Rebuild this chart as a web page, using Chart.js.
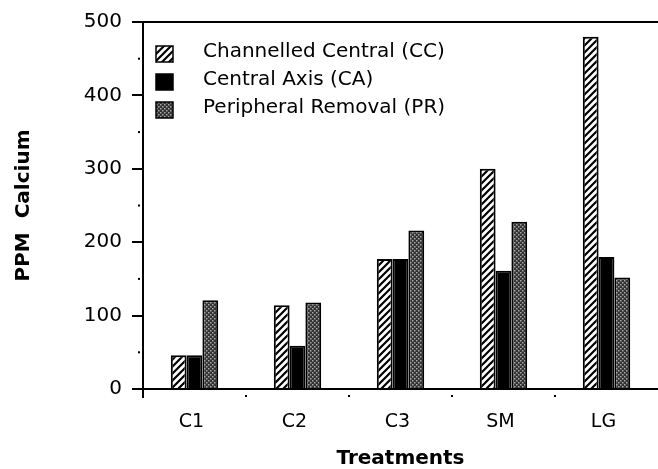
<!DOCTYPE html>
<html>
<head>
<meta charset="utf-8">
<script src="https://cdn.jsdelivr.net/npm/chart.js@4.4.1/dist/chart.umd.min.js"></script>
<style>
  html, body { margin: 0; padding: 0; background: #fff; }
  #wrap { width: 658px; height: 469px; }
</style>
</head>
<body>
<div id="wrap"><canvas id="chart"></canvas></div>
<script>
const treatments = ['C1', 'C2', 'C3', 'SM', 'LG'];
const channelledCentral = [46, 114, 177, 300, 480];
const centralAxis = [46, 59, 177, 161, 180];
const peripheralRemoval = [121, 118, 216, 228, 152];
const seriesNames = ['Channelled Central (CC)', 'Central Axis (CA)', 'Peripheral Removal (PR)'];

// fill patterns like the old print
function hatchPattern() {
    const c = document.createElement('canvas');
    c.width = 7; c.height = 7;
    const g = c.getContext('2d');
    g.fillStyle = '#fff';
    g.fillRect(0, 0, 7, 7);
    g.strokeStyle = '#000';
    g.lineWidth = 2.2;
    g.beginPath();
    g.moveTo(-1, 8); g.lineTo(8, -1);
    g.moveTo(-5, 5); g.lineTo(5, -5);
    g.moveTo(2, 12); g.lineTo(12, 2);
    g.stroke();
    return g.createPattern(c, 'repeat');
}
function stipplePattern() {
    const c = document.createElement('canvas');
    c.width = 4; c.height = 4;
    const g = c.getContext('2d');
    g.fillStyle = '#333';
    g.fillRect(0, 0, 4, 4);
    g.fillStyle = '#a8a8a8';
    g.fillRect(0, 0, 1.5, 1.5);
    g.fillRect(2, 2, 1.5, 1.5);
    return g.createPattern(c, 'repeat');
}

// legend drawn inside the plot, top left
const boxLegend = {
    id: 'boxLegend',
    afterDraw(chart) {
        const ctx = chart.ctx;
        const a = chart.chartArea;
        ctx.save();
        ctx.font = '20px "DejaVu Sans"';
        ctx.textBaseline = 'middle';
        chart.data.datasets.forEach((ds, i) => {
            const y = a.top + 32 + i * 28;
            ctx.fillStyle = ds.backgroundColor;
            ctx.fillRect(a.left + 13, y - 8, 17, 16);
            ctx.strokeStyle = '#000';
            ctx.lineWidth = 1.5;
            ctx.strokeRect(a.left + 13, y - 8, 17, 16);
            ctx.fillStyle = '#000';
            ctx.fillText(ds.label, a.left + 60, y - 2);
        });
        ctx.restore();
    }
};

// frame, corner ticks and the little dots between ticks
const axisExtras = {
    id: 'axisExtras',
    afterDraw(chart) {
        const ctx = chart.ctx;
        const a = chart.chartArea;
        const ys = chart.scales.y;
        const xs = chart.scales.x;
        ctx.save();
        ctx.strokeStyle = '#000';
        ctx.lineWidth = 2;
        ctx.beginPath();
        ctx.moveTo(a.left - 10, a.top);
        ctx.lineTo(a.right, a.top);
        ctx.moveTo(a.left, a.bottom);
        ctx.lineTo(a.left, a.bottom + 9);
        ctx.stroke();
        ctx.fillStyle = '#000';
        for (let v = 50; v < 500; v += 100) {
            ctx.fillRect(a.left - 5, ys.getPixelForValue(v) - 1, 2, 2);
        }
        for (let i = 0; i < treatments.length - 1; i++) {
            ctx.fillRect(xs.getPixelForValue(i + 0.5) - 1, a.bottom + 6, 2, 2);
        }
        ctx.restore();
    }
};

new Chart(document.getElementById('chart'), {
    type: 'bar',
    data: {
        labels: treatments,
        datasets: [
            { label: seriesNames[0], data: channelledCentral, backgroundColor: hatchPattern() },
            { label: seriesNames[1], data: centralAxis, backgroundColor: '#000' },
            { label: seriesNames[2], data: peripheralRemoval, backgroundColor: stipplePattern() },
        ],
    },
    options: {
        responsive: true,
        maintainAspectRatio: false,
        animation: false,
        layout: { padding: { top: 17, right: 0, left: 0, bottom: 0 } },
        datasets: {
            bar: {
                borderColor: '#000',
                borderWidth: 2,
                categoryPercentage: 0.46,
                barPercentage: 1,
            },
        },
        plugins: {
            legend: { display: false },
            tooltip: { enabled: false },
        },
        scales: {
            x: {
                grid: { display: false, drawTicks: false },
                border: { color: '#000', width: 2 },
                ticks: {
                    color: '#000',
                    padding: 22,
                    labelOffset: -3,
                    font: { family: 'DejaVu Sans', size: 19 },
                },
                title: {
                    display: true,
                    text: 'Treatments',
                    color: '#000',
                    padding: { top: 4, bottom: -2 },
                    font: { family: 'DejaVu Sans', size: 20, weight: 'bold' },
                },
                afterFit(scale) { scale.height = 80; },
            },
            y: {
                min: 0,
                max: 500,
                ticks: {
                    stepSize: 100,
                    color: '#000',
                    padding: 10,
                    font: { family: 'DejaVu Sans', size: 20 },
                },
                grid: { drawOnChartArea: false, drawTicks: true, tickLength: 11, color: '#000', lineWidth: 2 },
                border: { color: '#000', width: 2 },
                title: {
                    display: true,
                    text: 'PPM  Calcium',
                    color: '#000',
                    padding: { top: 12 },
                    font: { family: 'DejaVu Sans', size: 20, weight: 'bold' },
                },
                afterFit(scale) { scale.width = 143; },
            },
        },
    },
    plugins: [boxLegend, axisExtras],
});
</script>
</body>
</html>
